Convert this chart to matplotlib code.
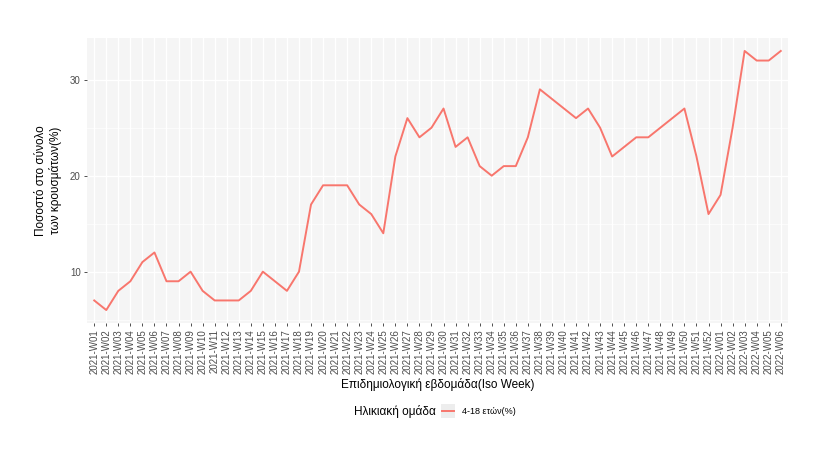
import matplotlib
matplotlib.use('Agg')
import matplotlib.pyplot as plt
from matplotlib.legend_handler import HandlerLine2D
from matplotlib.patches import Rectangle
from matplotlib.ticker import MultipleLocator

plt.rcParams['font.family'] = ['Liberation Sans', 'DejaVu Sans']

weeks = ['2021-W%02d' % i for i in range(1, 53)] + ['2022-W%02d' % i for i in range(1, 7)]
pct_4_18 = [7, 6, 8, 9, 11, 12, 9, 9, 10, 8,
            7, 7, 7, 8, 10, 9, 8, 10, 17, 19,
            19, 19, 17, 16, 14, 22, 26, 24, 25, 27,
            23, 24, 21, 20, 21, 21, 24, 29, 28, 27,
            26, 27, 25, 22, 23, 24, 24, 25, 26, 27,
            22, 16, 18, 25, 33, 32, 32, 33]

series_label = '4-18 ετών(%)'
legend_title = 'Ηλικιακή ομάδα'
x_title = 'Επιδημιολογική εβδομάδα(Iso Week)'
y_title = 'Ποσοστό στο σύνολο\nτων κρουσμάτων(%)'


class KeyHandler(HandlerLine2D):
    # ggplot style legend key: grey box behind the line
    def create_artists(self, legend, orig_handle, xdescent, ydescent,
                       width, height, fontsize, trans):
        side = width * 1.2
        cx = -xdescent + width / 2
        cy = -ydescent + height / 2
        bg = Rectangle((cx - side / 2, cy - side / 2), side, side,
                       facecolor='#EDEDED', edgecolor='none', transform=trans, zorder=0)
        arts = super().create_artists(legend, orig_handle, xdescent, ydescent,
                                      width, height, fontsize, trans)
        return [bg] + arts


fig = plt.figure(figsize=(8.3, 4.53), dpi=100)
ax = fig.add_axes([87 / 830, 1 - 323 / 453, 701 / 830, 285 / 453])

ax.set_facecolor('#F5F5F5')
x = list(range(len(weeks)))
line, = ax.plot(x, pct_4_18, color='#F8766D', lw=1.4, label=series_label, zorder=3)

ax.set_xlim(-0.6, len(weeks) - 1 + 0.6)
lo, hi = min(pct_4_18), max(pct_4_18)
pad = (hi - lo) * 0.05
ax.set_ylim(lo - pad, hi + pad)

ax.set_xticks(x)
ax.set_xticklabels(weeks, rotation=90, fontsize=7, color='#4D4D4D')
ax.yaxis.set_major_locator(MultipleLocator(10))
ax.yaxis.set_minor_locator(MultipleLocator(5))
ax.tick_params(axis='y', which='major', labelsize=7, labelcolor='#4D4D4D',
               length=2.5, width=0.6, color='#333333', pad=2)
ax.tick_params(axis='y', which='minor', length=0)
ax.tick_params(axis='x', length=2.5, width=0.6, color='#333333', pad=2)

ax.grid(which='major', color='white', lw=0.9)
ax.grid(which='minor', axis='y', color='white', lw=0.5)
ax.set_axisbelow(True)
for s in ax.spines.values():
    s.set_visible(False)

ax.set_xlabel(x_title, fontsize=8.5, color='black', labelpad=3)
ax.set_ylabel(y_title, fontsize=8.5, color='black', labelpad=6)

fig.text(436 / 830, 1 - 412 / 453, legend_title, fontsize=8.5, ha='right', va='center')
fig.legend(handles=[line], loc='center left', bbox_to_anchor=(442 / 830, 1 - 412 / 453),
           frameon=False, fontsize=6.5, handlelength=1.3, handletextpad=0.9,
           handler_map={line: KeyHandler()}, borderaxespad=0, borderpad=0)

fig.savefig('out.png', dpi=100)
